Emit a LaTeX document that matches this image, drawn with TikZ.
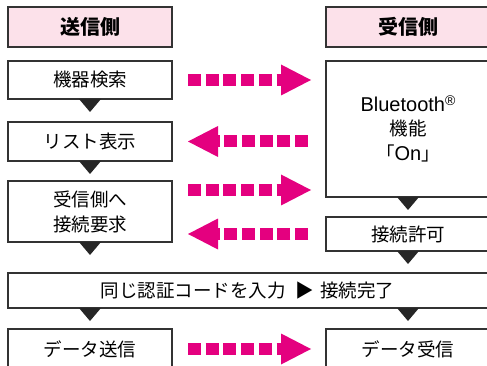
\documentclass[tikz,border=0pt]{standalone}
\usepackage{fontspec}
\setmainfont{Noto Sans CJK JP}
\newfontfamily\latinfont{Liberation Sans}
\usetikzlibrary{arrows.meta, positioning}
\definecolor{headpink}{HTML}{FCE1EA}
\definecolor{arrowpink}{HTML}{E4007F}
\definecolor{boxline}{HTML}{333333}
\tikzset{
  box/.style ={rectangle, draw=boxline, line width=2pt, fill=white,
               minimum width=164pt, minimum height=38pt, inner sep=0pt,
               align=center, font=\fontsize{18.5}{25}\selectfont},
  head/.style={box, fill=headpink, minimum height=40pt,
               font=\fontsize{20}{24}\selectfont\bfseries},
  sendarr/.style={draw=arrowpink, line width=12pt, dash pattern=on 13pt off 4.7pt,
               -{Triangle[length=30pt, width=31pt, line width=0pt]},
               shorten <=15pt, shorten >=14pt},
  recvarr/.style={sendarr, shorten <=17pt, shorten >=15pt},
  flowtri/.style={fill=black!85}
}
\newcommand{\flowmark}[1]{%
  \fill[flowtri] ([xshift=-11pt, yshift=1pt]#1) -- ([xshift=11pt, yshift=1pt]#1)
    -- ([yshift=-12pt]#1) -- cycle;}

\begin{document}
\begin{tikzpicture}[x=1pt, y=-1pt]
    \useasboundingbox (0,0) rectangle (487,366);
    \clip (0,0) rectangle (487,366);
    % sender
    \node[head] (sendhead) at (90,27) {送信側};
    \node[box, below=12pt of sendhead] (search) {機器検索};
    \node[box, below=21pt of search, minimum height=39pt] (list) {リスト表示};
    \node[box, below=18pt of list, minimum height=61pt] (req) {受信側へ\\接続要求};
    \node[box, below=29pt of req.south west, anchor=north west,
          minimum width=482pt, minimum height=35pt] (auth)
         {同じ認証コードを入力\hspace{10pt}▶\hspace{6pt}接続完了\hspace{3pt}};
    \node[box, below=19pt of auth.south west, anchor=north west, minimum height=40pt] (dsend) {データ送信};
    % receiver
    \node[head, right=152pt of sendhead] (recvhead) {受信側};
    \node[box, below=12pt of recvhead, minimum height=136pt] (bt)
         {{\latinfont\fontsize{20}{25}\selectfont Bluetooth\raisebox{6pt}{\fontsize{14}{14}\selectfont ®}}\\[-1pt]
          機能\\「{\latinfont\fontsize{20}{25}\selectfont On}」};
    \node[box, below=18pt of bt, minimum height=34pt] (perm) {接続許可};
    \node[box, right=152pt of dsend, minimum height=40pt] (drecv) {データ受信};
    % arrows between sides
    \coordinate (reqout) at ([yshift=21.5pt]req.east);
    \draw[sendarr] (search.east) -- (search.east -| bt.west);
    \draw[recvarr] (list.east -| bt.west) -- (list.east);
    \draw[sendarr] (reqout) -- (reqout -| bt.west);
    \draw[recvarr] (perm.west) -- (perm.west -| req.east);
    \draw[sendarr] (dsend.east) -- (drecv.west);
    % flow marks
    \coordinate (authl) at (auth.south -| search.south);
    \coordinate (authr) at (auth.south -| bt.south);
    \flowmark{search.south}
    \flowmark{list.south}
    \flowmark{req.south}
    \flowmark{bt.south}
    \flowmark{perm.south}
    \flowmark{authl}
    \flowmark{authr}
\end{tikzpicture}
\end{document}
